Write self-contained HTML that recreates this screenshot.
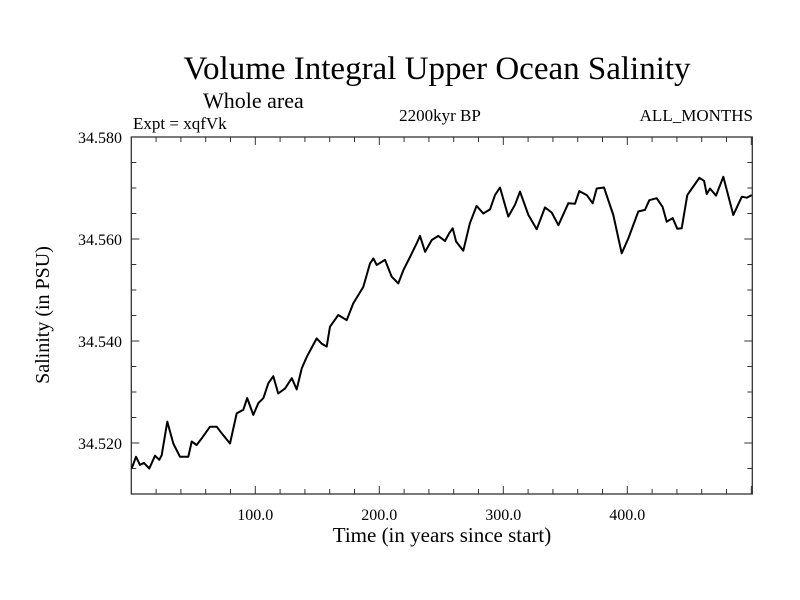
<!DOCTYPE html>
<html><head><meta charset="utf-8"><style>
body{margin:0;background:#fff}
svg{display:block;font-family:"Liberation Serif",serif}
</style></head><body>
<svg id="chart" width="800" height="600" viewBox="0 0 800 600">
<rect width="800" height="600" fill="#fff"/>
<text x="437" y="79" font-size="33" text-anchor="middle">Volume Integral Upper Ocean Salinity</text>
<text x="203" y="108" font-size="22">Whole area</text>
<text x="133" y="129" font-size="17">Expt = xqfVk</text>
<text x="440" y="121" font-size="17" text-anchor="middle">2200kyr BP</text>
<text x="753" y="121" font-size="17" text-anchor="end">ALL_MONTHS</text>
<text transform="translate(49,315) rotate(-90)" font-size="20" text-anchor="middle">Salinity (in PSU)</text>
<text x="442" y="542" font-size="21" text-anchor="middle">Time (in years since start)</text>
<g id="axes"></g>
<path id="series" fill="none" stroke="#000" stroke-width="2" stroke-linejoin="round"/>
</svg>
<script>
const years=[0.3,3.8,7.0,10.2,14.5,19.1,22.6,24.5,29.0,33.9,39.3,46.0,48.7,52.7,56.8,63.5,68.9,72.9,79.6,85.0,90.3,93.5,98.4,102.4,106.5,110.5,114.5,118.5,124.0,129.4,133.4,137.4,141.5,149.5,153.5,157.6,160.2,166.9,173.7,179.0,183.1,187.1,192.5,195.2,197.9,204.6,210.0,215.3,219.4,224.8,230.2,232.8,236.9,242.3,247.6,253.0,256.5,259.2,261.9,267.7,273.1,278.5,283.9,289.3,293.3,297.3,304.0,309.4,313.5,320.2,326.9,333.6,339.0,344.4,352.4,357.8,361.3,367.3,372.1,375.3,381.2,388.7,395.5,400.8,408.9,414.3,417.7,423.7,428.5,431.8,436.6,440.3,443.9,448.4,453.2,458.1,461.9,464.0,466.7,471.5,477.4,485.5,492.3,496.3,500.3];
const salinity=[34.5150,34.5173,34.5157,34.5161,34.5150,34.5175,34.5167,34.5176,34.5242,34.5199,34.5173,34.5173,34.5203,34.5196,34.5209,34.5232,34.5232,34.5219,34.5199,34.5258,34.5265,34.5288,34.5255,34.5278,34.5288,34.5317,34.5331,34.5297,34.5307,34.5327,34.5305,34.5346,34.5369,34.5405,34.5395,34.5389,34.5428,34.5451,34.5441,34.5474,34.5490,34.5506,34.5552,34.5562,34.5549,34.5559,34.5526,34.5513,34.5539,34.5565,34.5592,34.5606,34.5575,34.5598,34.5606,34.5596,34.5612,34.5621,34.5595,34.5577,34.5631,34.5665,34.5650,34.5658,34.5686,34.5701,34.5644,34.5667,34.5693,34.5647,34.5619,34.5662,34.5652,34.5627,34.5670,34.5669,34.5694,34.5686,34.5670,34.5699,34.5701,34.5647,34.5572,34.5601,34.5654,34.5657,34.5676,34.5680,34.5663,34.5634,34.5641,34.5620,34.5621,34.5686,34.5703,34.5720,34.5714,34.5688,34.5699,34.5685,34.5722,34.5647,34.5683,34.5681,34.5686];
const xTickLabels=["100.0","200.0","300.0","400.0"];
const xTickValues=[100,200,300,400];
const yTickLabels=["34.520","34.540","34.560","34.580"];
const yTickValues=[34.52,34.54,34.56,34.58];
const xMin=0,xMax=500.8,yMin=34.510,yMax=34.580;
const L=131.3,R=752.3,T=137,B=494;
const sx=v=>L+(v-xMin)/(xMax-xMin)*(R-L);
const sy=v=>B-(v-yMin)/(yMax-yMin)*(B-T);
const NS="http://www.w3.org/2000/svg";
const g=document.getElementById('axes');
function mk(tag,attrs){const e=document.createElementNS(NS,tag);for(const k in attrs)e.setAttribute(k,attrs[k]);g.appendChild(e);return e;}
const frame=mk('rect',{x:L,y:T,width:R-L,height:B-T,fill:'none',stroke:'#333','stroke-width':1.3});


for(let v=20;v<xMax;v+=20){const major=Math.abs(v%100)<1e-6;const len=major?8:5;const x=sx(v);
 const t1=mk('line',{x1:x,x2:x,y1:B,y2:B-len,stroke:'#333','stroke-width':1});
 
 
 const t2=mk('line',{x1:x,x2:x,y1:T,y2:T+len,stroke:'#333','stroke-width':1});
 
 }
for(let v=yMin+0.005;v<yMax-1e-6;v+=0.005){const major=Math.abs(Math.round(v*1000)%20)<1;const len=major?8:5;const y=sy(v);
 const t1=mk('line',{x1:L,x2:L+len,y1:y,y2:y,stroke:'#333','stroke-width':1});
 
 
 const t2=mk('line',{x1:R,x2:R-len,y1:y,y2:y,stroke:'#333','stroke-width':1});
 
 }
xTickValues.forEach((v,i)=>{const t=mk('text',{x:sx(v),y:520,'font-size':16,'text-anchor':'middle'});t.textContent=xTickLabels[i];
 
 });
yTickValues.forEach((v,i)=>{const t=mk('text',{x:122,y:sy(v)+6,'font-size':16,'text-anchor':'end'});t.textContent=yTickLabels[i];
 
 });
document.getElementById('series').setAttribute('d',years.map((yr,i)=>(i?'L':'M')+sx(yr).toFixed(1)+','+sy(salinity[i]).toFixed(1)).join(''));
</script>
</body></html>
